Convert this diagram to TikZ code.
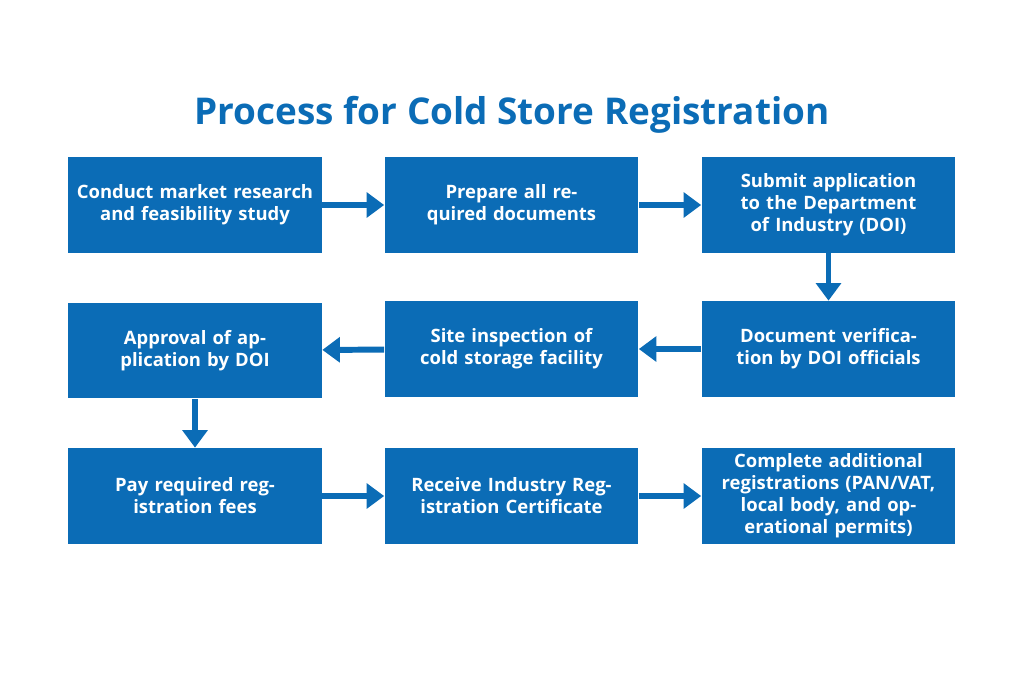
\documentclass[tikz,border=0pt]{standalone}
\usepackage{fontspec}
\setmainfont{Open Sans}
\usetikzlibrary{arrows.meta,positioning}
\definecolor{doiblue}{HTML}{0B6CB6}
\tikzset{
  stepbox/.style={fill=doiblue, text=white, font=\bfseries\fontsize{10.5}{12.5}\selectfont,
    minimum width=5.08cm, minimum height=1.92cm, text width=4.8cm, align=center, inner sep=0pt},
  flow/.style={doiblue, line width=3.4pt, -{Triangle[width=14pt,length=10pt]}}
}
\begin{document}
\begin{tikzpicture}[x=0.02cm, y=-0.02cm]
\useasboundingbox (0,0) rectangle (1024,683);
\node[text=doiblue, font=\bfseries\fontsize{21}{25}\selectfont] (title) at (512,115) {Process for Cold Store Registration};
% first row
\node[stepbox] (research) at (195,205) {Conduct market research and feasibility study};
\node[stepbox] (docs) at (511.5,205) {Prepare all required documents};
\node[stepbox] (submit) at (828.5,205) {Submit application to the Department of Industry (DOI)};
% second row
\node[stepbox] (approval) at (195,350.5) {Approval of application by DOI};
\node[stepbox] (inspect) at (511.5,349) {Site inspection of cold storage facility};
\node[stepbox] (verify) at (828.5,349) {Document verification by DOI officials};
% third row
\node[stepbox] (fees) at (195,496) {Pay required registration fees};
\node[stepbox] (certificate) at (511.5,496) {Receive Industry Registration Certificate};
\node[stepbox] (additional) at (828.5,496) {Complete additional registrations (PAN/VAT, local body, and operational permits)};
\draw[flow] (research) -- (docs);
\draw[flow] (docs) -- (submit);
\draw[flow] (submit) -- (verify);
\draw[flow] (verify) -- (inspect);
\draw[flow] (inspect) -- (approval);
\draw[flow] (approval) -- (fees);
\draw[flow] (fees) -- (certificate);
\draw[flow] (certificate) -- (additional);
\end{tikzpicture}
\end{document}
